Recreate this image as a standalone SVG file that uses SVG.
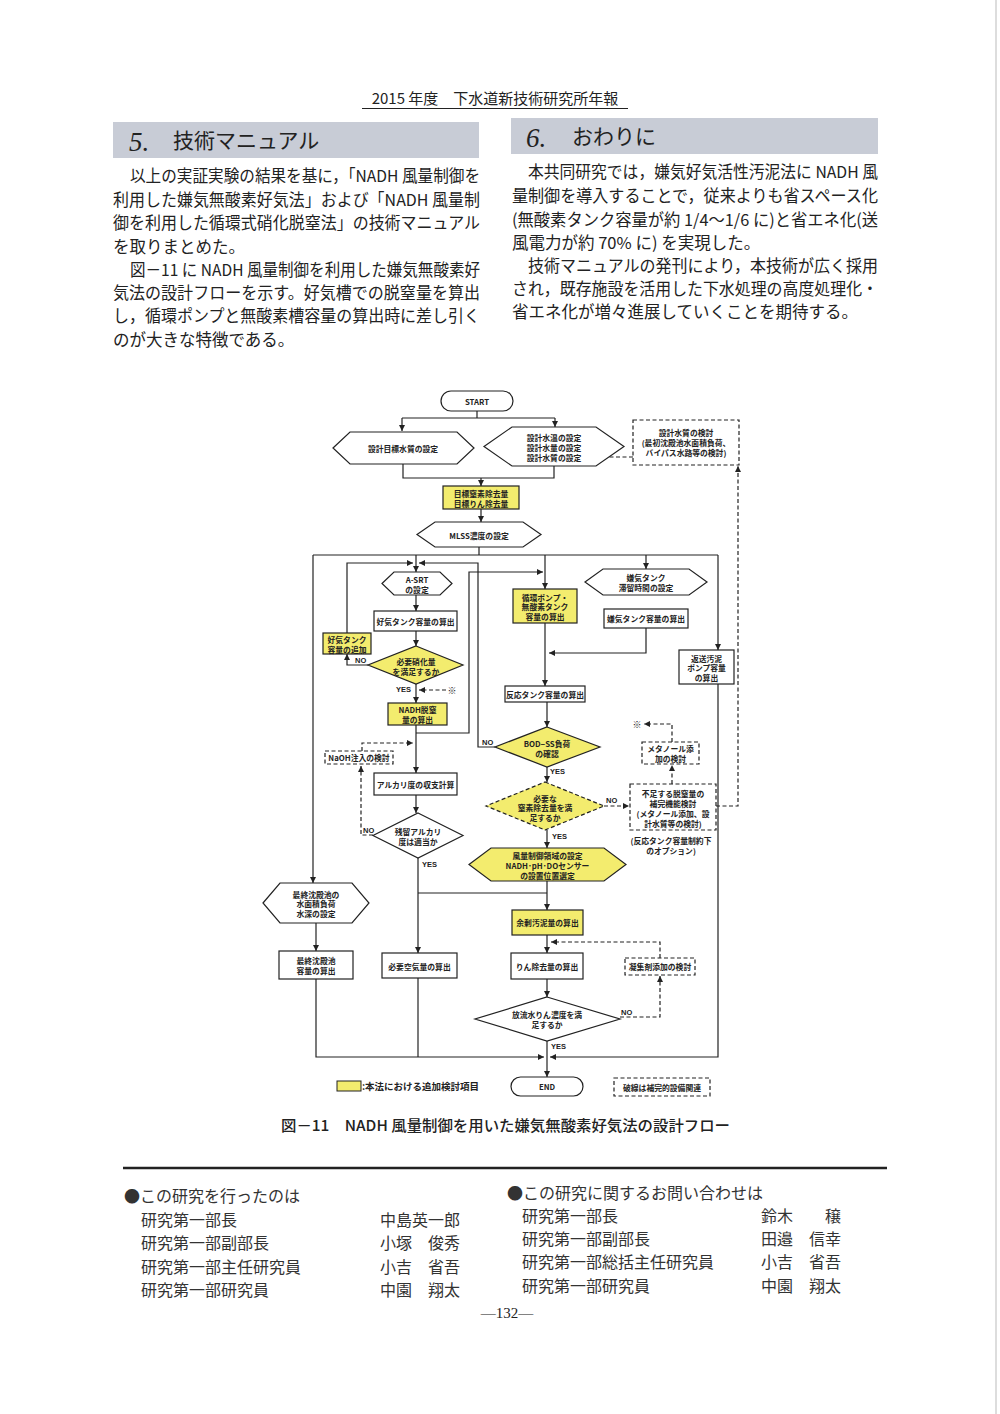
<svg xmlns="http://www.w3.org/2000/svg" width="1000" height="1414" viewBox="0 0 1000 1414">
<defs>
<marker id="ah" viewBox="0 0 10 10" refX="10" refY="5" markerWidth="6" markerHeight="6" markerUnits="userSpaceOnUse" orient="auto"><path d="M0,0 L10,5 L0,10 z" fill="#222"/></marker>
</defs>
<style>
.body{font-family:"Noto Sans CJK JP","Liberation Serif",serif;font-size:16.5px;fill:#222}
.hdr{font-family:"Noto Sans CJK JP","Liberation Serif",serif;font-size:15px;fill:#222}
.bt{font-family:"Noto Sans CJK JP","Liberation Sans",sans-serif;font-size:16px;fill:#333}
.n{fill:#fff;stroke:#222;stroke-width:1.2}
.y{fill:#f3ec6e;stroke:#222;stroke-width:1.2}
.d{fill:#fff;stroke:#222;stroke-width:1.2;stroke-dasharray:4 2.5}
.dy{fill:#f3ec6e;stroke:#222;stroke-width:1.2;stroke-dasharray:4 2.5}
.t{font-family:"Noto Sans CJK JP","Liberation Sans",sans-serif;font-size:7.8px;font-weight:bold;fill:#222;text-anchor:middle;dominant-baseline:central}
.k{font-family:"Noto Sans CJK JP",sans-serif;font-size:9px;fill:#222;text-anchor:middle;dominant-baseline:central}
.lb{font-family:"Liberation Sans",sans-serif;font-size:7.5px;font-weight:bold;fill:#222;dominant-baseline:central}
.c{fill:none;stroke:#222;stroke-width:1.2}
.ca{fill:none;stroke:#222;stroke-width:1.2;marker-end:url(#ah)}
.da{fill:none;stroke:#222;stroke-width:1.2;stroke-dasharray:4 2.5;marker-end:url(#ah)}
</style>
<rect width="1000" height="1414" fill="#fff"/>
<line x1="996" y1="0" x2="996" y2="1414" stroke="#ddd" stroke-width="2"/>

<!-- Header -->
<g id="header">
<text class="hdr" x="495" y="104" text-anchor="middle">2015 年度　下水道新技術研究所年報</text>
<line x1="362" y1="108.5" x2="628" y2="108.5" stroke="#222" stroke-width="1"/>
</g>

<!-- Section headers -->
<g id="sec5">
<rect x="113" y="122" width="366" height="36" fill="#c8ccd6"/>
<text x="129" y="151" font-family="Liberation Serif,serif" font-style="italic" font-size="27" fill="#222">5.</text>
<text x="173" y="148" font-family="Noto Sans CJK JP,sans-serif" font-size="21" fill="#222">技術マニュアル</text>
</g>
<g id="sec6">
<rect x="511" y="118" width="367" height="36" fill="#c8ccd6"/>
<text x="526" y="147" font-family="Liberation Serif,serif" font-style="italic" font-size="27" fill="#222">6.</text>
<text x="572" y="144" font-family="Noto Sans CJK JP,sans-serif" font-size="21" fill="#222">おわりに</text>
</g>

<!-- Left paragraph -->
<g id="para5">
<text class="body" x="130" y="182" textLength="350" lengthAdjust="spacingAndGlyphs">以上の実証実験の結果を基に，「NADH 風量制御を</text>
<text class="body" x="113" y="206" textLength="367" lengthAdjust="spacingAndGlyphs">利用した嫌気無酸素好気法」および「NADH 風量制</text>
<text class="body" x="113" y="229" textLength="367" lengthAdjust="spacingAndGlyphs">御を利用した循環式硝化脱窒法」の技術マニュアル</text>
<text class="body" x="113" y="253">を取りまとめた。</text>
<text class="body" x="130" y="276" textLength="350" lengthAdjust="spacingAndGlyphs">図－11 に NADH 風量制御を利用した嫌気無酸素好</text>
<text class="body" x="113" y="299" textLength="367" lengthAdjust="spacingAndGlyphs">気法の設計フローを示す。好気槽での脱窒量を算出</text>
<text class="body" x="113" y="322" textLength="367" lengthAdjust="spacingAndGlyphs">し，循環ポンプと無酸素槽容量の算出時に差し引く</text>
<text class="body" x="113" y="346">のが大きな特徴である。</text>
</g>

<!-- Right paragraph -->
<g id="para6">
<text class="body" x="528" y="178" textLength="350" lengthAdjust="spacingAndGlyphs">本共同研究では，嫌気好気活性汚泥法に NADH 風</text>
<text class="body" x="512" y="202" textLength="366" lengthAdjust="spacingAndGlyphs">量制御を導入することで，従来よりも省スペース化</text>
<text class="body" x="512" y="226" textLength="366" lengthAdjust="spacingAndGlyphs">(無酸素タンク容量が約 1/4～1/6 に)と省エネ化(送</text>
<text class="body" x="512" y="249">風電力が約 70% に) を実現した。</text>
<text class="body" x="528" y="272" textLength="350" lengthAdjust="spacingAndGlyphs">技術マニュアルの発刊により，本技術が広く採用</text>
<text class="body" x="512" y="295" textLength="366" lengthAdjust="spacingAndGlyphs">され，既存施設を活用した下水処理の高度処理化・</text>
<text class="body" x="512" y="318">省エネ化が増々進展していくことを期待する。</text>
</g>

<!-- Connectors -->
<g id="connectors">
<path class="c" d="M477,411 V418 M402,418 H555"/>
<path class="ca" d="M402,418 V431"/>
<path class="ca" d="M555,418 V427"/>
<path class="c" d="M403,464 V478 H554 V466"/>
<path class="ca" d="M481,478 V486"/>
<path class="ca" d="M481,509 V522"/>
<path class="c" d="M479,547 V555 M313,555 H718"/>
<path class="ca" d="M313,555 V883"/>
<path class="ca" d="M416,555 V572"/>
<path class="ca" d="M545,555 V589"/>
<path class="ca" d="M646,555 V569"/>
<path class="ca" d="M718,555 V650"/>
<path class="ca" d="M416,595 V611"/>
<path class="ca" d="M416,631 V646"/>
<path class="ca" d="M368,665 H347 V654"/>
<path class="ca" d="M347,633 V563 H413"/>
<path class="ca" d="M416,684 V703"/>
<path class="ca" d="M416,725 V773"/>
<path class="ca" d="M416,733 H469 V572 H543"/>
<path class="ca" d="M495,747 H478 V563 H419"/>
<path class="ca" d="M416,795 V813"/>
<path class="ca" d="M418,858 V953"/>
<path class="c" d="M418,893 H547"/>
<path class="c" d="M418,978 V1057"/>
<path class="ca" d="M316,923 V951"/>
<path class="ca" d="M316,979 V1057 H544"/>
<path class="ca" d="M718,684 V1057 H550"/>
<path class="ca" d="M545,623 V686"/>
<path class="ca" d="M646,628 V653 H549"/>
<path class="ca" d="M547,702 V727"/>
<path class="ca" d="M547,767 V782"/>
<path class="ca" d="M547,830 V848"/>
<path class="ca" d="M547,881 V910"/>
<path class="ca" d="M547,935 V953"/>
<path class="ca" d="M547,979 V997"/>
<path class="ca" d="M547,1041 V1077"/>
<!-- dashed -->
<path class="da" d="M633,457 H586"/>
<path class="da" d="M716,806 H738 V466"/>
<path class="da" d="M604,806 H629"/>
<path class="da" d="M672,784 V765"/>
<path class="da" d="M672,742 V724 H644"/>
<path class="da" d="M446,690 H419"/>
<path class="da" d="M362,751 V743 H413"/>
<path class="da" d="M373,835 H361 V766"/>
<path class="da" d="M660,958 V942 H551"/>
<path class="da" d="M620,1017 H660 V976"/>
<!-- labels -->
<text class="lb" x="355" y="660">NO</text>
<text class="lb" x="396" y="689">YES</text>
<text class="lb" x="482" y="742">NO</text>
<text class="lb" x="550" y="771">YES</text>
<text class="lb" x="606" y="800">NO</text>
<text class="lb" x="552" y="836">YES</text>
<text class="lb" x="363" y="830">NO</text>
<text class="lb" x="422" y="864">YES</text>
<text class="lb" x="621" y="1012">NO</text>
<text class="lb" x="551" y="1046">YES</text>
<text class="k" x="452" y="690">※&#xFE0E;</text>
<text class="k" x="637" y="724">※&#xFE0E;</text>
</g>

<!-- Nodes -->
<g id="start"><rect class="n" x="441" y="391" width="72" height="20" rx="10"/><text class="t" x="477" y="401">START</text></g>
<g id="n-target-quality"><polygon class="n" points="333,448 350,432 457,432 474,448 457,464 350,464"/><text class="t" x="403" y="448">設計目標水質の設定</text></g>
<g id="n-design"><polygon class="n" points="484,446.5 512,427 596,427 624,446.5 596,466 512,466"/><text class="t" x="554" y="437">設計水温の設定</text><text class="t" x="554" y="447">設計水量の設定</text><text class="t" x="554" y="457">設計水質の設定</text></g>
<g id="n-quality-study"><rect class="d" x="633" y="420" width="106" height="45"/><text class="t" x="686" y="432">設計水質の検討</text><text class="t" x="686" y="442">(最初沈殿池水面積負荷、</text><text class="t" x="686" y="452">バイパス水路等の検討)</text></g>
<g id="n-target-removal"><rect class="y" x="443" y="486" width="76" height="23"/><text class="t" x="481" y="493">目標窒素除去量</text><text class="t" x="481" y="503">目標りん除去量</text></g>
<g id="n-mlss"><polygon class="n" points="417,534.5 435,522 523,522 541,534.5 523,547 435,547"/><text class="t" x="479" y="535">MLSS濃度の設定</text></g>
<g id="n-asrt"><polygon class="n" points="382,583.5 394,572 440,572 452,583.5 440,595 394,595"/><text class="t" x="417" y="579">A-SRT</text><text class="t" x="417" y="589">の設定</text></g>
<g id="n-aerobic"><rect class="n" x="374" y="611" width="83" height="20"/><text class="t" x="415.5" y="621">好気タンク容量の算出</text></g>
<g id="n-add-aerobic"><rect class="y" x="323" y="633" width="48" height="21"/><text class="t" x="347" y="639">好気タンク</text><text class="t" x="347" y="649">容量の追加</text></g>
<g id="n-nitrif"><polygon class="y" points="416,646 463,665 416,684 368,665"/><text class="t" x="416" y="661">必要硝化量</text><text class="t" x="416" y="671">を満足するか</text></g>
<g id="n-nadh"><rect class="y" x="388" y="703" width="59" height="22"/><text class="t" x="417.5" y="709">NADH脱窒</text><text class="t" x="417.5" y="719">量の算出</text></g>
<g id="n-naoh"><rect class="d" x="325" y="751" width="68" height="13"/><text class="t" x="359" y="757.5">NaOH注入の検討</text></g>
<g id="n-alk"><rect class="n" x="374" y="773" width="83" height="22"/><text class="t" x="415.5" y="784">アルカリ度の収支計算</text></g>
<g id="n-resid-alk"><polygon class="n" points="418,813 463,835.5 418,858 373,835.5"/><text class="t" x="418" y="831">残留アルカリ</text><text class="t" x="418" y="841">度は適当か</text></g>
<g id="n-circ"><rect class="y" x="513" y="589" width="64" height="34"/><text class="t" x="545" y="597">循環ポンプ・</text><text class="t" x="545" y="606.5">無酸素タンク</text><text class="t" x="545" y="616">容量の算出</text></g>
<g id="n-anaer-hrt"><polygon class="n" points="585,582 603,569 689,569 707,582 689,595 603,595"/><text class="t" x="646" y="577">嫌気タンク</text><text class="t" x="646" y="587">滞留時間の設定</text></g>
<g id="n-anaer-vol"><rect class="n" x="604" y="609" width="84" height="19"/><text class="t" x="646" y="618.5">嫌気タンク容量の算出</text></g>
<g id="n-return"><rect class="n" x="679" y="650" width="55" height="34"/><text class="t" x="706.5" y="658">返送汚泥</text><text class="t" x="706.5" y="667.5">ポンプ容量</text><text class="t" x="706.5" y="677">の算出</text></g>
<g id="n-reactor"><rect class="n" x="505" y="686" width="80" height="16"/><text class="t" x="545" y="694">反応タンク容量の算出</text></g>
<g id="n-bod"><polygon class="y" points="547,727 600,747 547,767 495,747"/><text class="t" x="547" y="743">BOD−SS負荷</text><text class="t" x="547" y="753">の確認</text></g>
<g id="n-methanol"><rect class="d" x="642" y="742" width="57" height="22"/><text class="t" x="670.5" y="748.5">メタノール添</text><text class="t" x="670.5" y="758.5">加の検討</text></g>
<g id="n-nitrogen"><polygon class="dy" points="545,782 604,806 545,830 486,806"/><text class="t" x="545" y="798">必要な</text><text class="t" x="545" y="807.5">窒素除去量を満</text><text class="t" x="545" y="817">足するか</text></g>
<g id="n-deficit"><rect class="d" x="630" y="784" width="86" height="46"/><text class="t" x="673" y="793">不足する脱窒量の</text><text class="t" x="673" y="803">補完機能検討</text><text class="t" x="673" y="813">(メタノール添加、設</text><text class="t" x="673" y="823">計水質等の検討)</text></g>
<g id="n-option"><text class="t" x="671" y="840">(反応タンク容量制約下</text><text class="t" x="671" y="850">のオプション)</text></g>
<g id="n-airflow"><polygon class="y" points="469,864.5 491,848 604,848 626,864.5 604,881 491,881"/><text class="t" x="547.5" y="855">風量制御領域の設定</text><text class="t" x="547.5" y="865">NADH･pH･DOセンサー</text><text class="t" x="547.5" y="875">の設置位置選定</text></g>
<g id="n-fs-hex"><polygon class="n" points="263,903 280,883 352,883 369,903 352,923 280,923"/><text class="t" x="316" y="894">最終沈殿池の</text><text class="t" x="316" y="903.5">水面積負荷</text><text class="t" x="316" y="913">水深の設定</text></g>
<g id="n-fs-vol"><rect class="n" x="279" y="951" width="74" height="28"/><text class="t" x="316" y="960">最終沈殿池</text><text class="t" x="316" y="970">容量の算出</text></g>
<g id="n-air"><rect class="n" x="382" y="953" width="75" height="25"/><text class="t" x="419.5" y="966">必要空気量の算出</text></g>
<g id="n-excess"><rect class="y" x="512" y="910" width="71" height="25"/><text class="t" x="547.5" y="922.5">余剰汚泥量の算出</text></g>
<g id="n-phos"><rect class="n" x="511" y="953" width="72" height="26"/><text class="t" x="547" y="966">りん除去量の算出</text></g>
<g id="n-coag"><rect class="d" x="625" y="958" width="70" height="17"/><text class="t" x="660" y="966.5">凝集剤添加の検討</text></g>
<g id="n-pdiam"><polygon class="n" points="547,997 620,1019 547,1041 475,1019"/><text class="t" x="547" y="1014">放流水りん濃度を満</text><text class="t" x="547" y="1024">足するか</text></g>
<g id="end"><rect class="n" x="511" y="1077" width="72" height="19" rx="9.5"/><text class="t" x="547" y="1086.5">END</text></g>
<g id="legend">
<rect x="337" y="1081" width="24" height="10" fill="#f3ec6e" stroke="#222" stroke-width="1"/>
<text x="362" y="1090" font-family="Noto Sans CJK JP,sans-serif" font-size="9.5" font-weight="bold" fill="#222">:本法における追加検討項目</text>
<rect class="d" x="614" y="1078" width="96" height="18"/>
<text class="t" x="662" y="1087">破線は補完的設備関連</text>
</g>

<!-- Caption -->
<text id="caption" x="281" y="1131" font-family="Noto Sans CJK JP,sans-serif" font-size="15" font-weight="500" fill="#222" textLength="449" lengthAdjust="spacingAndGlyphs">図－11　NADH 風量制御を用いた嫌気無酸素好気法の設計フロー</text>

<!-- Footer -->
<line x1="123" y1="1168" x2="887" y2="1168" stroke="#222" stroke-width="2.5"/>
<g id="researchers">
<text class="bt" x="124" y="1202">●この研究を行ったのは</text>
<text class="bt" x="141" y="1226">研究第一部長</text><text class="bt" x="380" y="1226">中島英一郎</text>
<text class="bt" x="141" y="1249">研究第一部副部長</text><text class="bt" x="380" y="1249">小塚　俊秀</text>
<text class="bt" x="141" y="1273">研究第一部主任研究員</text><text class="bt" x="380" y="1273">小吉　省吾</text>
<text class="bt" x="141" y="1296">研究第一部研究員</text><text class="bt" x="380" y="1296">中園　翔太</text>
</g>
<g id="contacts">
<text class="bt" x="507" y="1199">●この研究に関するお問い合わせは</text>
<text class="bt" x="522" y="1222">研究第一部長</text><text class="bt" x="761" y="1222">鈴木</text><text class="bt" x="825" y="1222">穣</text>
<text class="bt" x="522" y="1245">研究第一部副部長</text><text class="bt" x="761" y="1245">田邉　信幸</text>
<text class="bt" x="522" y="1268">研究第一部総括主任研究員</text><text class="bt" x="761" y="1268">小吉　省吾</text>
<text class="bt" x="522" y="1292">研究第一部研究員</text><text class="bt" x="761" y="1292">中園　翔太</text>
</g>
<text id="pageno" x="507" y="1318" text-anchor="middle" font-family="Liberation Serif,serif" font-size="15" fill="#222">—132—</text>
</svg>
